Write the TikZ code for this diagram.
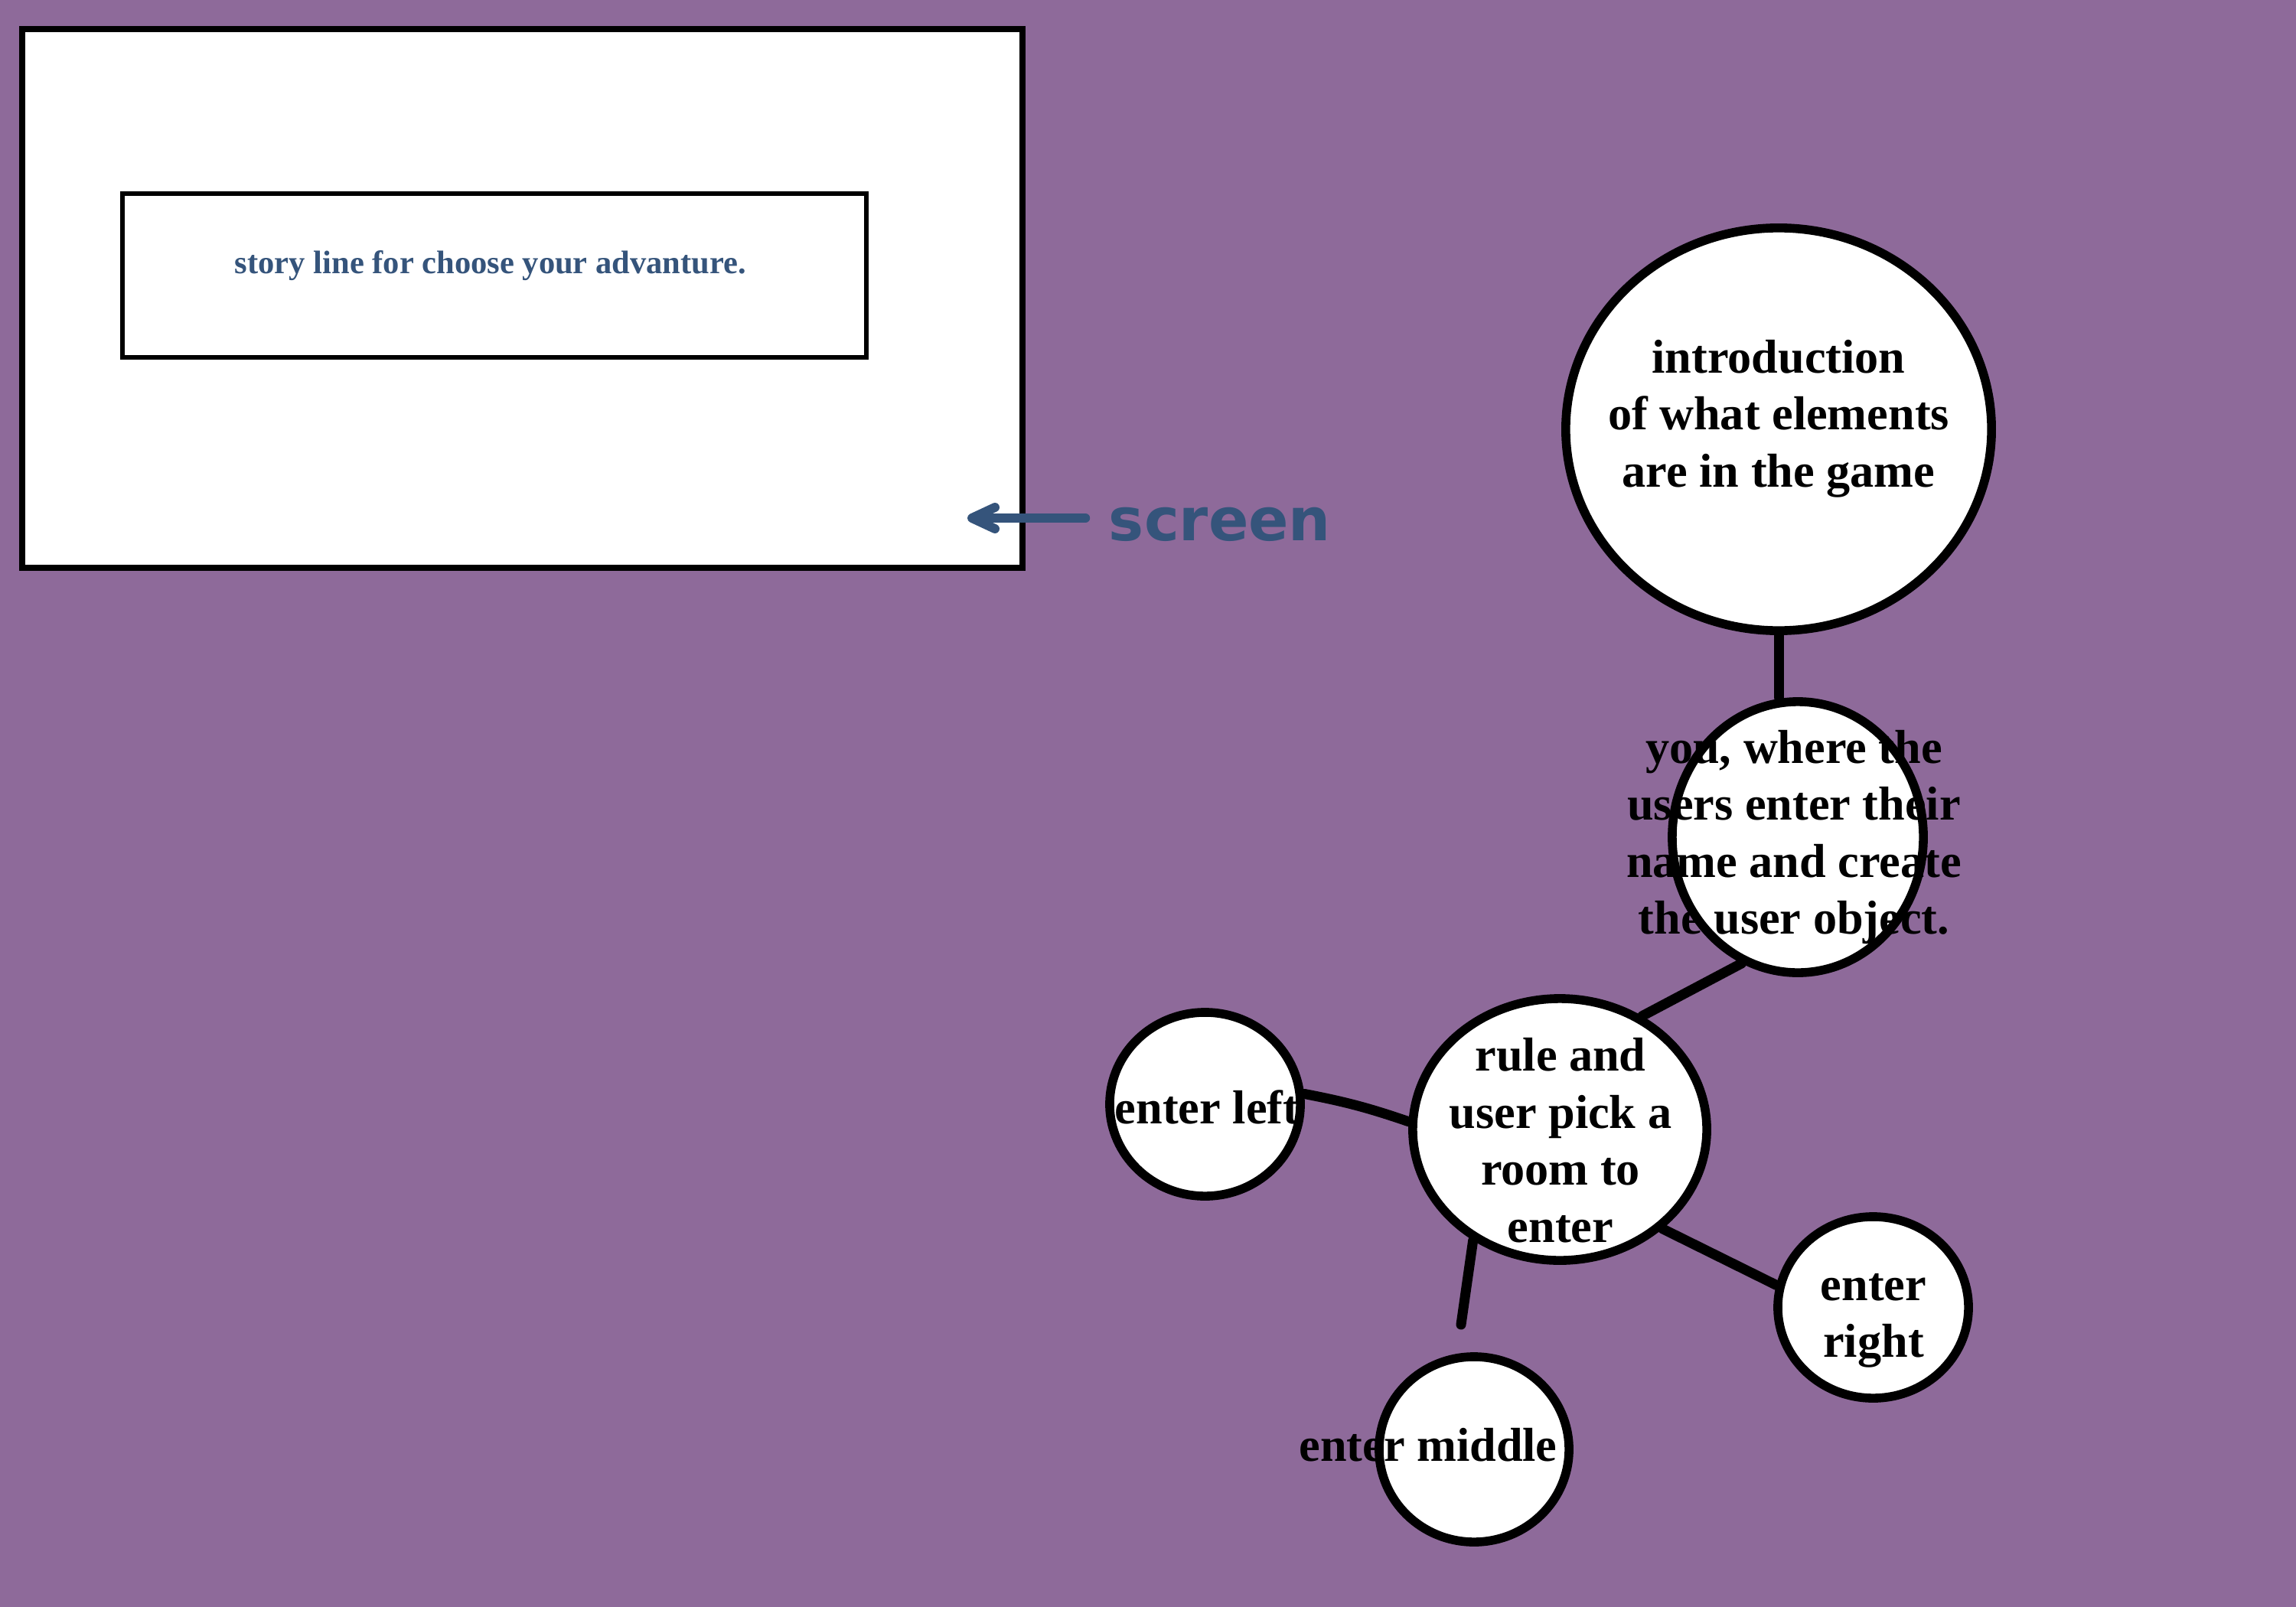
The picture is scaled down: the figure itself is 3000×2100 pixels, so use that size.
\documentclass[tikz,border=0pt]{standalone}
\usepackage{fontspec}
\setmainfont{Liberation Serif}
\newfontfamily\handfont{DejaVu Sans}
\usetikzlibrary{
  arrows.meta,
  shapes.geometric
}
\definecolor{roomPlum}{HTML}{8E6A9A}
\definecolor{roomInk}{HTML}{000000}
\definecolor{roomPen}{HTML}{35547B}
\tikzset{
  bubble/.style={
    ellipse,
    draw=roomInk,
    line width=3.3pt,
    fill=white,
    inner sep=0pt
  },
  caption/.style={
    font=\bfseries\fontsize{17.7}{21.2}\selectfont,
    text=roomInk,
    align=center,
    inner sep=0pt
  },
  wire/.style={
    line width=3.7pt,
    draw=roomInk,
    line cap=round
  },
  screenbox/.style={
    draw=roomInk,
    line width=2.3pt,
    fill=white,
    inner sep=0pt
  },
  storybox/.style={
    draw=roomInk,
    line width=1.7pt,
    fill=white,
    inner sep=0pt
  },
  storytext/.style={
    font=\bfseries\fontsize{12.1}{14.5}\selectfont,
    text=roomPen,
    inner sep=0pt
  },
  penlabel/.style={
    font=\handfont\bfseries\fontsize{22}{26}\selectfont,
    text=roomPen,
    inner sep=0pt
  },
  penlink/.style={
    -{Straight Barb[length=3mm,width=2.8mm,round]},
    line width=3.4pt,
    draw=roomPen,
    line cap=round
  }
}

\begin{document}
\begin{tikzpicture}[x=0.01cm, y=-0.01cm]
  \fill[roomPlum] (0,0) rectangle (3000,2100);
  \useasboundingbox (0,0) rectangle (3000,2100);

  \node[screenbox, minimum width=13.07cm, minimum height=7.04cm] (screen) at (682.5,390) {};
  \node[storybox, minimum width=9.72cm, minimum height=2.14cm] (story) at (646,360) {};
  \node[storytext] (story-t) at (641,347) {story line for choose your advanture.};

  \node[penlabel] (scr) at (1594,685) {screen};
  \coordinate (scrtip) at (1264,677);
  \draw[penlink, shorten <=0.3cm] (scr.west |- scrtip) -- (scrtip);

  \node[bubble, minimum width=5.56cm, minimum height=5.26cm] (intro) at (2324,561) {};
  \node[bubble, minimum width=3.28cm, minimum height=3.54cm] (you) at (2349,1094) {};
  \node[bubble, minimum width=3.84cm, minimum height=3.42cm] (rule) at (2038,1476) {};
  \node[bubble, minimum width=2.49cm, minimum height=2.40cm] (left) at (1574.5,1443) {};
  \node[bubble, minimum width=2.48cm, minimum height=2.42cm] (middle) at (1926,1894) {};
  \node[bubble, minimum width=2.49cm, minimum height=2.37cm] (right) at (2447.5,1708.5) {};

  \node[caption] (intro-t) at (2324,547) {introduction\\of what elements\\are in the game};
  \node[caption] (you-t) at (2344,1094) {you, where the\\users enter their\\name and create\\the user object.};
  \node[caption] (rule-t) at (2039,1490) {rule and\\user pick a\\room to\\enter};
  \node[caption] (left-t) at (1577,1447) {enter left};
  \node[caption] (middle-t) at (1866,1888) {enter middle};
  \node[caption] (right-t) at (2448,1726) {enter\\right};

  \coordinate (midend) at (1909,1731);
  \draw[wire] (intro.south) -- (intro.south |- you.north);
  \draw[wire] (you.246) -- (rule.54);
  \draw[wire] (left.6) to[bend left=4] (rule.177);
  \draw[wire] (rule.232) -- (midend);
  \draw[wire] (rule.316) -- (right.167);
\end{tikzpicture}
\end{document}
